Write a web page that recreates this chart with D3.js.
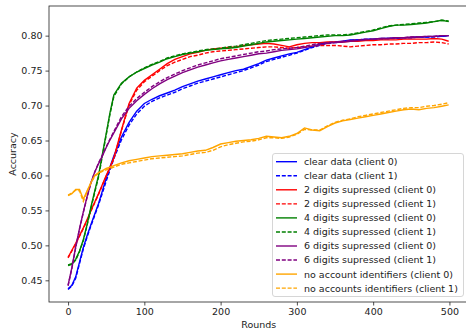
<!DOCTYPE html>
<html>
<head>
<meta charset="utf-8">
<script src="https://cdn.jsdelivr.net/npm/d3@7"></script>
<style>
  body { margin: 0; background: #fff; }
  text { font-family: "DejaVu Sans", sans-serif; fill: #222; }
</style>
</head>
<body>
<div id="main-container"></div>
<script>
var width = 466,
    height = 330

// data
var rounds = [0,5,10,15,20,25,30,35,40,45,50,55,60,70,80,90,100,110,120,130,140,150,160,170,180,190,200,210,220,230,240,250,260,270,280,290,300,310,320,330,340,350,360,370,380,390,400,410,420,430,440,450,460,470,480,490,499]

var clear0 = [.438,.443,.455,.476,.497,.514,.530,.545,.560,.578,.596,.612,.628,.655,.676,.692,.703,.709,.714,.718,.722,.727,.731,.735,.738,.741,.744,.747,.750,.752,.756,.760,.765,.768,.771,.774,.776,.780,.784,.788,.790,.791,.792,.794,.794,.795,.795,.796,.796,.797,.797,.797,.798,.798,.799,.799,.800]
var clear1 = [.437,.442,.453,.474,.495,.512,.528,.543,.558,.575,.592,.608,.624,.651,.672,.688,.699,.706,.711,.715,.719,.724,.728,.732,.735,.738,.741,.744,.747,.750,.754,.758,.763,.766,.769,.772,.775,.779,.783,.786,.789,.790,.791,.793,.794,.794,.795,.795,.796,.796,.797,.797,.798,.798,.798,.799,.800]
var two0 = [.483,.493,.503,.514,.525,.537,.550,.562,.574,.587,.600,.612,.625,.665,.703,.725,.736,.744,.752,.760,.766,.770,.774,.776,.779,.781,.782,.783,.784,.786,.787,.788,.789,.788,.786,.784,.787,.789,.790,.790,.791,.791,.791,.792,.792,.793,.793,.794,.794,.794,.795,.795,.795,.795,.796,.795,.792]
var two1 = [.482,.492,.502,.513,.524,.536,.549,.561,.573,.586,.599,.611,.624,.664,.701,.722,.734,.742,.750,.757,.762,.766,.770,.772,.775,.777,.778,.779,.780,.781,.782,.783,.784,.784,.783,.782,.783,.784,.785,.786,.786,.786,.785,.784,.785,.786,.787,.787,.788,.788,.789,.789,.790,.790,.791,.790,.788]
var four0 = [.472,.474,.480,.492,.508,.530,.555,.578,.600,.630,.660,.690,.715,.732,.741,.748,.753,.758,.762,.767,.770,.773,.775,.777,.779,.780,.781,.782,.783,.785,.787,.789,.791,.792,.793,.794,.795,.796,.797,.798,.799,.800,.800,.801,.803,.805,.807,.810,.813,.815,.815,.816,.817,.818,.820,.822,.820]
var four1 = [.471,.473,.479,.491,.507,.529,.553,.576,.598,.628,.658,.688,.713,.731,.741,.748,.754,.759,.763,.768,.771,.774,.776,.778,.780,.781,.782,.784,.785,.787,.789,.791,.793,.794,.795,.796,.797,.798,.799,.800,.801,.801,.801,.802,.804,.806,.808,.811,.814,.815,.816,.817,.818,.819,.820,.822,.821]
var six0 = [.443,.468,.498,.524,.548,.570,.590,.605,.617,.628,.640,.651,.661,.681,.696,.707,.716,.724,.731,.737,.742,.747,.751,.755,.758,.761,.764,.766,.768,.770,.772,.774,.775,.777,.779,.780,.781,.783,.785,.787,.789,.790,.791,.792,.793,.794,.795,.796,.796,.797,.797,.798,.798,.799,.799,.800,.800]
var six1 = [.442,.467,.497,.523,.547,.569,.589,.605,.618,.629,.641,.652,.663,.684,.699,.710,.719,.727,.734,.740,.745,.750,.754,.758,.761,.764,.767,.769,.771,.773,.775,.777,.778,.780,.781,.782,.783,.785,.787,.789,.790,.791,.792,.793,.794,.795,.795,.796,.796,.797,.797,.798,.798,.799,.799,.800,.800]
var noacc0 = [.571,.574,.580,.580,.566,.578,.590,.600,.604,.607,.610,.612,.614,.618,.621,.623,.625,.627,.628,.629,.630,.631,.633,.635,.636,.640,.645,.647,.649,.650,.651,.653,.656,.655,.654,.656,.660,.668,.665,.664,.670,.675,.678,.680,.682,.684,.686,.688,.690,.692,.694,.695,.694,.696,.697,.699,.701]
var noacc1 = [.572,.575,.579,.578,.563,.577,.589,.599,.603,.606,.608,.610,.612,.616,.618,.620,.622,.624,.625,.626,.627,.628,.630,.632,.633,.636,.641,.644,.646,.648,.649,.651,.654,.654,.653,.655,.659,.666,.665,.665,.671,.676,.679,.681,.684,.686,.688,.690,.692,.694,.696,.697,.697,.699,.700,.702,.704]

var seriesNames = ["clear data (client 0)", "clear data (client 1)",
  "2 digits supressed (client 0)", "2 digits supressed (client 1)",
  "4 digits supressed (client 0)", "4 digits supressed (client 1)",
  "6 digits supressed (client 0)", "6 digits supressed (client 1)",
  "no account identifiers (client 0)", "no accounts identifiers (client 1)"]
var seriesValues = [clear0, clear1, two0, two1, four0, four1, six0, six1, noacc0, noacc1]
var seriesColors = ["blue","blue","red","red","green","green","purple","purple","orange","orange"]

var xTicks = [0, 100, 200, 300, 400, 500]
var yTicks = [0.45, 0.50, 0.55, 0.60, 0.65, 0.70, 0.75, 0.80]

var plot = {left: 49, top: 6, right: 468.5, bottom: 302}

var svg = d3.select("#main-container").append("svg")
  .attr("width", width)
  .attr("height", height)

var x = d3.scaleLinear()
  .domain([-25, 525])
  .range([plot.left, plot.right])

var y = d3.scaleLinear()
  .domain([0.419, 0.8424])
  .range([plot.bottom, plot.top])

svg.append("clipPath").attr("id", "clip")
  .append("rect")
  .attr("x", plot.left).attr("y", plot.top)
  .attr("width", plot.right - plot.left).attr("height", plot.bottom - plot.top)

var line = d3.line()
  .x(function(d, i){ return x(rounds[i]) })
  .y(function(d){ return y(d) })

svg.append("g")
  .attr("clip-path", "url(#clip)")
  .selectAll("path")
  .data(seriesValues)
  .enter()
  .append("path")
    .attr("d", line)
    .attr("fill", "none")
    .attr("stroke", function(d, i){ return seriesColors[i] })
    .attr("stroke-width", 1.4)
    .attr("stroke-dasharray", function(d, i){ return i % 2 ? "4,1.8" : null })

// axes
var xAxis = svg.append("g")
  .attr("transform", "translate(0," + plot.bottom + ")")
  .call(d3.axisBottom(x).tickValues(xTicks).tickSize(3.5).tickPadding(3))
var yAxis = svg.append("g")
  .attr("transform", "translate(" + plot.left + ",0)")
  .call(d3.axisLeft(y).tickValues(yTicks).tickFormat(d3.format(".2f")).tickSize(3.5).tickPadding(3))

svg.selectAll(".domain").remove()
svg.selectAll(".tick line").attr("stroke", "#222").attr("stroke-width", 0.8)
svg.selectAll(".tick text").style("font-size", "9.5px").style("font-family", "DejaVu Sans").attr("fill", "#222")

// frame
svg.append("rect")
  .attr("x", plot.left).attr("y", plot.top)
  .attr("width", plot.right - plot.left).attr("height", plot.bottom - plot.top)
  .attr("fill", "none").attr("stroke", "#222").attr("stroke-width", 0.8)

svg.append("text")
  .attr("x", (plot.left + plot.right) / 2)
  .attr("y", 328)
  .attr("text-anchor", "middle")
  .style("font-size", "9.5px")
  .text("Rounds")

svg.append("text")
  .attr("transform", "translate(15.5," + (plot.top + plot.bottom) / 2 + ") rotate(-90)")
  .attr("text-anchor", "middle")
  .style("font-size", "9.5px")
  .text("Accuracy")

// legend
var legend = svg.append("g")
legend.append("rect")
  .attr("x", 272.5).attr("y", 153.5)
  .attr("width", 191).attr("height", 143)
  .attr("rx", 2.5)
  .attr("fill", "white").attr("fill-opacity", 0.8)
  .attr("stroke", "#cccccc").attr("stroke-width", 0.8)

var items = legend.selectAll(".item")
  .data(seriesNames)
  .enter()
  .append("g")
  .attr("transform", function(d, i){ return "translate(0," + (161.7 + i * 14.05) + ")" })

items.append("line")
  .attr("x1", 276).attr("x2", 297)
  .attr("stroke", function(d, i){ return seriesColors[i] })
  .attr("stroke-width", 1.4)
  .attr("stroke-dasharray", function(d, i){ return i % 2 ? "4,1.8" : null })

items.append("text")
  .attr("x", 304)
  .attr("y", 3.4)
  .style("font-size", "9.5px")
  .text(function(d){ return d })
</script>
</body>
</html>
